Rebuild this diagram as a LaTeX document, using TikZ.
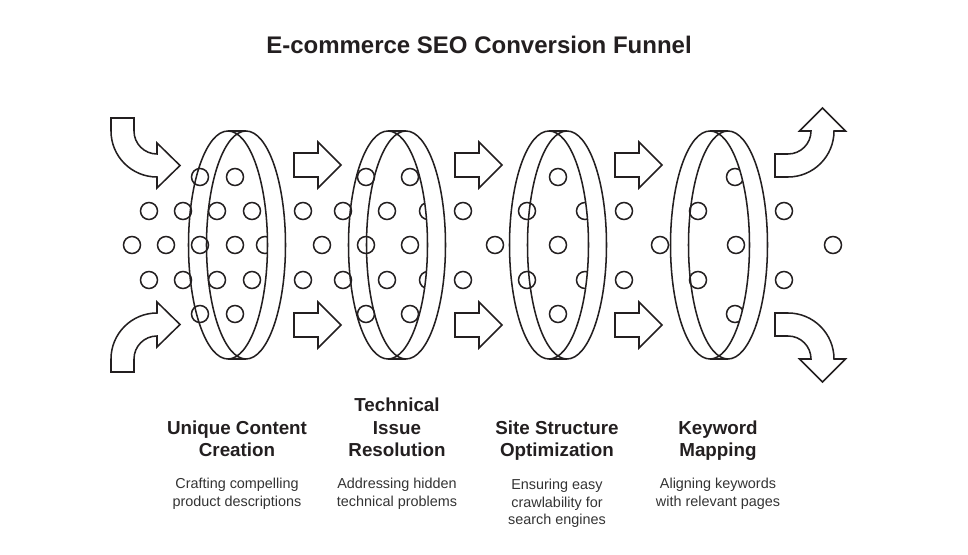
\documentclass[tikz,border=0pt]{standalone}
\usepackage{fontspec}
\setmainfont{Liberation Sans}
\definecolor{inkline}{HTML}{231F20}

\begin{document}
\begin{tikzpicture}[
    x=0.75pt, y=-0.75pt,
    ringline/.style={draw=inkline, line width=1.15pt},
    dotcircle/.style={draw=inkline, line width=1.15pt},
    flowarrow/.style={draw=inkline, line width=1.15pt, line join=miter, fill=white},
    titletext/.style={font=\bfseries\fontsize{18}{22}\selectfont, text=inkline},
    headtext/.style={font=\bfseries\fontsize{14.1}{17.2}\selectfont, align=center, text=inkline, anchor=base, inner sep=0pt},
    desctext/.style={font=\fontsize{10.8}{13}\selectfont, align=center, text=black!80, anchor=north, inner sep=0pt}
]
\useasboundingbox (0,0) rectangle (968,555);

% particles flowing through the filters
\foreach \px/\py in {200/177, 235/177, 366/177, 410/177, 558/177, 735/177,
    149/211, 183/211, 217/211, 252/211, 303/211, 343/211, 387/211, 428/211, 463/211, 527/211, 585/211, 624/211, 698/211, 784/211,
    132/245, 166/245, 200/245, 235/245, 265/245, 322/245, 366/245, 410/245, 495/245, 558/245, 660/245, 736/245, 833/245,
    149/280, 183/280, 217/280, 252/280, 303/280, 343/280, 387/280, 428/280, 463/280, 527/280, 585/280, 624/280, 698/280, 784/280,
    200/314, 235/314, 366/314, 410/314, 558/314, 735/314}
    \draw[dotcircle] (\px,\py) circle[radius=8.5];

% filter rings
\foreach \cx in {237,397,558,719} {
    \begin{scope}
        \clip (\cx,120) rectangle (\cx+60,370);
        \fill[white, even odd rule] (\cx+9,245) ellipse[x radius=39.5, y radius=114]
            (\cx-9,245) ellipse[x radius=39.5, y radius=114];
    \end{scope}
    \draw[ringline] (\cx-9,245) ellipse[x radius=39.5, y radius=114];
    \draw[ringline] (\cx+9,245) ellipse[x radius=39.5, y radius=114];
    \draw[ringline] (\cx-9,131) -- (\cx+9,131) (\cx-9,359) -- (\cx+9,359);
}

% straight arrows between the rings
\foreach \ax in {294,455,615}
    \foreach \ay in {165,325}
        \draw[flowarrow] (\ax,\ay-12) -- ++(24,0) -- ++(0,-11) -- (\ax+47,\ay)
            -- (\ax+24,\ay+23) -- ++(0,-11) -- (\ax,\ay+12) -- cycle;

% curved arrows in and out
\foreach \mirror in {0,1} {
    \begin{scope}[shift={(0,490*\mirror)}, yscale=1-2*\mirror]
        \draw[flowarrow] (111,118) -- (134,118) -- (134,131)
            arc[start angle=180, end angle=90, radius=23] -- (157,143) -- (180,165.5)
            -- (157,188) -- (157,177) arc[start angle=90, end angle=180, radius=46] -- cycle;
        \draw[flowarrow] (775,154) -- (788,154)
            arc[start angle=90, end angle=0, radius=23] -- (799.5,131) -- (822.5,108)
            -- (845.5,131) -- (834,131) arc[start angle=0, end angle=90, radius=46]
            -- (775,177) -- cycle;
    \end{scope}
}

\node[titletext] (title) at (479,45) {E-commerce SEO Conversion Funnel};

\node[headtext] (head1) at (237,457) {Unique Content\\Creation};
\node[headtext] (head2) at (397,457) {Technical\\Issue\\Resolution};
\node[headtext] (head3) at (557,457) {Site Structure\\Optimization};
\node[headtext] (head4) at (718,457) {Keyword\\Mapping};

\node[desctext] (desc1) at (237,478) {Crafting compelling\\product descriptions};
\node[desctext] (desc2) at (397,478) {Addressing hidden\\technical problems};
\node[desctext] (desc3) at (557,479) {Ensuring easy\\crawlability for\\search engines};
\node[desctext] (desc4) at (718,478) {Aligning keywords\\with relevant pages};
\end{tikzpicture}
\end{document}
